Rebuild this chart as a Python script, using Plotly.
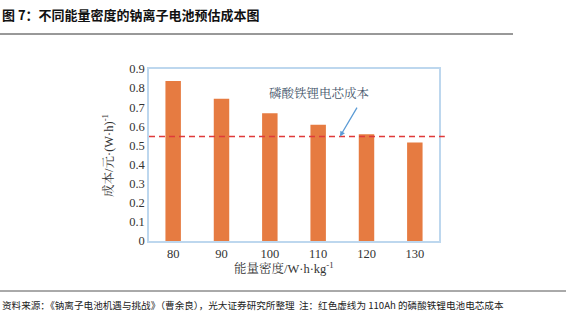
import plotly.graph_objects as go

categories = ["80", "90", "100", "110", "120", "130"]
costs = [0.837, 0.744, 0.669, 0.608, 0.559, 0.516]
lfp_cost = 0.547
y_tickvals = [0, 0.1, 0.2, 0.3, 0.4, 0.5, 0.6, 0.7, 0.8, 0.9]
y_ticktext = ["0", "0.1", "0.2", "0.3", "0.4", "0.5", "0.6", "0.7", "0.8", "0.9"]

title_text = "图 7：不同能量密度的钠离子电池预估成本图"
footer_text = "资料来源：《钠离子电池机遇与挑战》（曹余良），光大证券研究所整理  注：红色虚线为 110Ah 的磷酸铁锂电池电芯成本"
annot_text = "磷酸铁锂电芯成本"
ytitle = "成本/元·(W·h)<sup>-1</sup>"
xtitle = "能量密度/W·h·kg<sup>-1</sup>"

serif = "Liberation Serif, Noto Serif CJK SC, Noto Sans CJK SC, serif"
sans = "Noto Sans CJK SC, sans-serif"

W, H = 566, 321
L, R, T, B = 149, 439, 69, 241

fig = go.Figure()
fig.add_trace(go.Bar(x=categories, y=costs, marker=dict(color="#E67B41", line=dict(width=0)),
                     width=0.32, showlegend=False))

axis_line = "#BDD7EE"
fig.update_layout(
    width=W, height=H,
    margin=dict(l=L, r=W - R, t=T, b=H - B),
    paper_bgcolor="white", plot_bgcolor="white",
    font=dict(family=serif, size=12.5, color="#333333"),
    xaxis=dict(type="category", showline=True, linecolor=axis_line, linewidth=1.5, mirror=True,
               ticks="", showgrid=False, tickfont=dict(family=serif, size=12.5, color="#333333"),
               range=[-0.5, 5.5]),
    yaxis=dict(range=[0, 0.9], tickvals=y_tickvals, ticktext=y_ticktext, showline=True,
               linecolor=axis_line, linewidth=1.5, mirror=True, ticks="", showgrid=False,
               zeroline=False, tickfont=dict(family=serif, size=12.5, color="#333333")),
)

# LFP reference dashed line
fig.add_shape(type="line", xref="paper", yref="y", x0=0.0, x1=1.02, y0=lfp_cost, y1=lfp_cost,
              line=dict(color="#E03A3A", width=1.5, dash="6px,4px"))

# arrow
fig.add_annotation(xref="paper", yref="y", x=(340 - L) / (R - L), y=lfp_cost,
                   ax=20, ay=-34, axref="pixel", ayref="pixel", text=" ",
                   showarrow=True, arrowhead=2, arrowsize=0.8, arrowwidth=1.3, arrowcolor="#5B9BD5")
fig.add_annotation(xref="paper", yref="y", x=(371 - L) / (R - L), y=0.774,
                   text=annot_text, showarrow=False,
                   font=dict(family=serif, size=12.5, color="#44546A"))

# axis titles
fig.add_annotation(xref="paper", yref="paper", x=(284 - L) / (R - L), y=-(268 - B) / (B - T),
                   text=xtitle, showarrow=False, yanchor="middle",
                   font=dict(family=serif, size=12.5, color="#333333"))
fig.add_annotation(xref="paper", yref="paper", x=-(L - 108) / (R - L), y=(B - 156) / (B - T),
                   text=ytitle, showarrow=False, textangle=-90, xanchor="center", yanchor="middle",
                   font=dict(family=serif, size=12.5, color="#333333"))

# title and footer
fig.add_annotation(xref="paper", yref="paper", x=-L / (R - L), y=(B - 14) / (B - T),
                   text="<b>" + title_text + "</b>", showarrow=False, xanchor="left", yanchor="middle",
                   font=dict(family=sans, size=13, color="#111111"))
fig.add_shape(type="line", xref="paper", yref="paper", x0=-L / (R - L), x1=(513 - L) / (R - L),
              y0=(B - 34) / (B - T), y1=(B - 34) / (B - T), line=dict(color="#333333", width=1))
fig.add_shape(type="line", xref="paper", yref="paper", x0=-L / (R - L), x1=(W - L) / (R - L),
              y0=(B - 291) / (B - T), y1=(B - 291) / (B - T), line=dict(color="#555555", width=1))
fig.add_annotation(xref="paper", yref="paper", x=-L / (R - L), y=(B - 305) / (B - T),
                   text=footer_text, showarrow=False, xanchor="left", yanchor="middle",
                   font=dict(family=sans, size=9.6, color="#222222"))

fig.write_html("out.html")
